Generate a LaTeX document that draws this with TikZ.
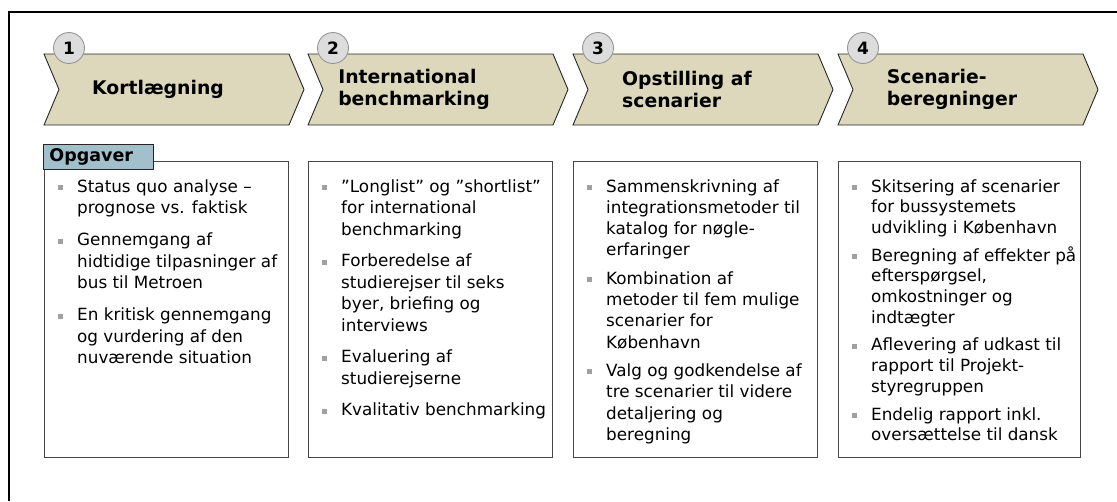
\documentclass[tikz,border=0pt]{standalone}
\usepackage{fontspec}
\setmainfont{DejaVu Sans}
\definecolor{chevfill}{RGB}{221,215,188}
\definecolor{numfill}{RGB}{220,220,220}
\definecolor{numdraw}{RGB}{150,150,150}
\definecolor{hdrfill}{RGB}{162,191,204}
\definecolor{bulgray}{RGB}{160,160,160}
\definecolor{boxdraw}{RGB}{70,70,70}
\newcommand{\bitem}[1]{\par\noindent\hangindent=19pt\hangafter=1\makebox[19pt][l]{\textcolor{bulgray}{\rule[2pt]{5pt}{5pt}}}#1\par}
% #1 = gap between items, #2 = line distance, #3 = items
\newcommand{\tasklist}[3]{\parbox[t]{230pt}{\fontsize{16.8pt}{#2}\selectfont\setlength{\parskip}{#1}#3}}
\tikzset{
  chev/.style={fill=chevfill, draw=black!85, line width=0.9pt, line join=miter},
  numcirc/.style={circle, minimum size=31pt, inner sep=0pt, fill=numfill, draw=numdraw, line width=0.9pt, font=\bfseries\fontsize{17pt}{17pt}\selectfont},
  phasetitle/.style={align=left, inner sep=0pt, font=\bfseries\fontsize{18.8pt}{22pt}\selectfont},
  taskbox/.style={draw=boxdraw, line width=1pt, fill=white, minimum width=244pt, minimum height=296pt, inner sep=0pt, anchor=north west},
  hdr/.style={draw=black!85, line width=0.9pt, fill=hdrfill, text width=98pt, inner xsep=6pt, minimum height=25pt, align=left, anchor=north west, font=\bfseries\fontsize{17.5pt}{17.5pt}\selectfont},
  listnode/.style={anchor=base west, inner sep=0pt},
  frame/.style={line width=2pt, draw=black}
}
\newcommand{\phasechev}[4]{%
  \draw[chev] (#2,54) -- ++(245,0) -- ++(15,35.5) -- ++(-15,35.5) -- ++(-245,0) -- ++(15,-35.5) -- cycle;
  \node[phasetitle] (title#1) at (#2+#4,89.5) {#3};
  \node[numcirc] (num#1) at (#2+25,48) {#1};
}
\begin{document}
\begin{tikzpicture}[x=1pt,y=-1pt]
\useasboundingbox (0,0) rectangle (1117,501);
\coordinate (frameTL) at (9,12);
\coordinate (frameTR) at (1117,12);
\coordinate (frameBL) at (9,501);
\draw[frame] (frameBL) -- (frameTL) -- (frameTR);

\phasechev{1}{44}{Kortlægning}{114}
\phasechev{2}{308}{International\\benchmarking}{106}
\phasechev{3}{573}{Opstilling af\\scenarier}{114}
\phasechev{4}{838}{Scenarie-\\beregninger}{114}

\node[taskbox] (box1) at (44,161) {};
\node[taskbox] (box2) at (308,161) {};
\node[taskbox] (box3) at (573,161) {};
\node[taskbox, minimum width=242pt] (box4) at (838,161) {};

\node[hdr] (hdr) at (43,144) {Opgaver};

\node[listnode] (list1) at (58,192) {\tasklist{10.5pt}{21.5pt}{%
\bitem{Status quo analyse –\\prognose vs. faktisk}
\bitem{Gennemgang af\\hidtidige tilpasninger af\\bus til Metroen}
\bitem{En kritisk gennemgang\\og vurdering af den\\nuværende situation}}};

\node[listnode] (list2) at (322,192) {\tasklist{10pt}{21.5pt}{%
\bitem{”Longlist” og ”shortlist”\\for international\\benchmarking}
\bitem{Forberedelse af\\studierejser til seks\\byer, briefing og\\interviews}
\bitem{Evaluering af\\studierejserne}
\bitem{Kvalitativ benchmarking}}};

\node[listnode] (list3) at (587,192) {\tasklist{7pt}{21.3pt}{%
\bitem{Sammenskrivning af\\integrationsmetoder til\\katalog for nøgle-\\erfaringer}
\bitem{Kombination af\\metoder til fem mulige\\scenarier for\\København}
\bitem{Valg og godkendelse af\\tre scenarier til videre\\detaljering og\\beregning}}};

\node[listnode] (list4) at (852,192) {\tasklist{7pt}{20.7pt}{%
\bitem{Skitsering af scenarier\\for bussystemets\\udvikling i København}
\bitem{Beregning af effekter på\\efterspørgsel,\\omkostninger og\\indtægter}
\bitem{Aflevering af udkast til\\rapport til Projekt-\\styregruppen}
\bitem{Endelig rapport inkl.\\oversættelse til dansk}}};
\end{tikzpicture}
\end{document}
